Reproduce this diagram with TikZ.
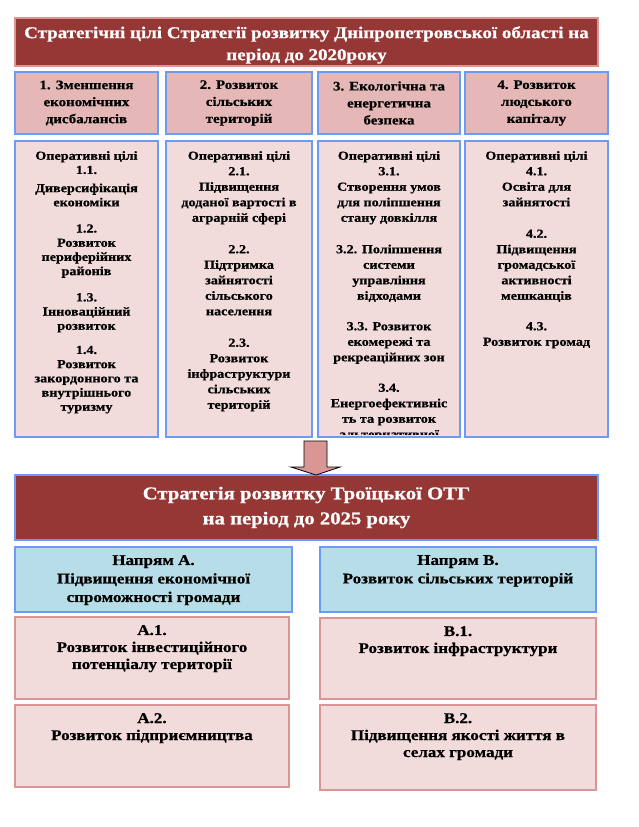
\documentclass[tikz,border=0pt]{standalone}
\usepackage{fontspec}
\setmainfont{Liberation Serif}[FakeStretch=1.15, BoldFeatures={FakeBold=0.7}]
\usetikzlibrary{fit}
\definecolor{hdr}{RGB}{149,55,53}
\definecolor{pinkA}{RGB}{229,184,183}
\definecolor{pinkB}{RGB}{242,220,219}
\definecolor{pinkline}{RGB}{217,150,148}
\definecolor{blueline}{RGB}{108,155,245}
\definecolor{lblue}{RGB}{183,222,232}
\definecolor{arrowfill}{RGB}{217,150,148}
\begin{document}
\begin{tikzpicture}[x=1pt,y=-1pt,
  bx/.style={draw, line width=1.2pt, inner sep=0pt, outer sep=0pt},
  hdrbox/.style={bx, fill=hdr},
  colhead/.style={bx, fill=pinkA, draw=blueline},
  opbox/.style={bx, fill=pinkB, draw=blueline},
  dirbox/.style={bx, fill=lblue, draw=blueline},
  taskbox/.style={bx, fill=pinkB, draw=pinkline},
  hdrtxt/.style={text=white, font=\bfseries\fontsize{16.5}{22}\selectfont, align=center},
  coltxt/.style={font=\bfseries\fontsize{13}{17}\selectfont, align=center},
  optxt/.style={font=\bfseries\fontsize{12.3}{15.5}\selectfont, align=center, anchor=north, inner sep=0pt},
  dirtxt/.style={font=\bfseries\fontsize{14.8}{18.5}\selectfont, align=center, anchor=north, inner sep=0pt},
  tasktxt/.style={dirtxt, font=\bfseries\fontsize{14.8}{17}\selectfont}]
\useasboundingbox (0,0) rectangle (639,827);

% top header
\node[hdrbox, draw=pinkline, fit={(15,18) (598,66)}] (top) {};
\node[hdrtxt] at ([yshift=-3pt]top.center) {Стратегічні цілі Стратегії розвитку Дніпропетровської області на\\період до 2020року};

% column headers
\node[colhead, fit={(15,72) (158,134)}] (h1) {};
\node[colhead, fit={(166,72) (312,134)}] (h2) {};
\node[colhead, fit={(318,72) (460,134)}] (h3) {};
\node[colhead, fit={(465,72) (608,134)}] (h4) {};
\node[coltxt] at (h1.center) {1. Зменшення\\економічних\\дисбалансів};
\node[coltxt] at (h2.center) {2. Розвиток\\сільських\\територій};
\node[coltxt] at (h3.center) {3. Екологічна та\\енергетична\\безпека};
\node[coltxt] at (h4.center) {4. Розвиток\\людського\\капіталу};

% operational goals
\node[opbox, fit={(15,141) (158,437)}] (o1) {};
\node[opbox, fit={(166,141) (312,437)}] (o2) {};
\node[opbox, fit={(318,141) (460,437)}] (o3) {};
\node[opbox, fit={(465,141) (608,437)}] (o4) {};

\node[optxt, font=\bfseries\fontsize{12.3}{14.2}\selectfont] at ([yshift=-10pt]o1.north) {Оперативні цілі\\1.1.\\[4pt]Диверсифікація\\економіки\\[12pt]1.2.\\Розвиток\\периферійних\\районів\\[12pt]1.3.\\Інноваційний\\розвиток\\[10pt]1.4.\\Розвиток\\закордонного та\\внутрішнього\\туризму};
\node[optxt] at ([yshift=-10pt]o2.north) {Оперативні цілі\\2.1.\\Підвищення\\доданої вартості в\\аграрній сфері\\[16pt]2.2.\\Підтримка\\зайнятості\\сільського\\населення\\[16pt]2.3.\\Розвиток\\інфраструктури\\сільських\\територій};
\begin{scope}
\clip (318,141) rectangle (460,434.5);
\node[optxt] at ([yshift=-10pt]o3.north) {Оперативні цілі\\3.1.\\Створення умов\\для поліпшення\\стану довкілля\\[16pt]3.2. Поліпшення\\системи\\управління\\відходами\\[15pt]3.3. Розвиток\\екомережі та\\рекреаційних зон\\[15pt]3.4.\\Енергоефективніс\\ть та розвиток\\альтернативної};
\end{scope}
\node[optxt] at ([yshift=-10pt]o4.north) {Оперативні цілі\\4.1.\\Освіта для\\зайнятості\\[16pt]4.2.\\Підвищення\\громадської\\активності\\мешканців\\[15pt]4.3.\\Розвиток громад};

% bottom header
\node[hdrbox, draw=blueline, fit={(15,475) (598,540)}] (bot) {};
\node[hdrtxt, font=\bfseries\fontsize{18}{25}\selectfont] at (bot.center) {Стратегія розвитку Троїцької ОТГ\\на період до 2025 року};

% arrow from the goal columns to the community strategy
\coordinate (arrtop) at (316,441);
\draw[black, line width=0.8pt, fill=arrowfill]
  ([xshift=-12pt]arrtop) -- ([xshift=11pt]arrtop) -- ([xshift=11pt]arrtop |- 0,467) -- ([xshift=24pt]arrtop |- 0,467)
  -- (bot.north -| arrtop) -- ([xshift=-25pt]arrtop |- 0,467) -- ([xshift=-12pt]arrtop |- 0,467) -- cycle;

% directions
\node[dirbox, fit={(15,547) (292,612)}] (dA) {};
\node[dirbox, fit={(320,547) (596,612)}] (dB) {};
\node[dirtxt] at ([yshift=-8pt]dA.north) {Напрям А.\\Підвищення економічної\\спроможності громади};
\node[dirtxt] at ([yshift=-8pt]dB.north) {Напрям В.\\Розвиток сільських територій};

\node[taskbox, fit={(15,617) (289,699)}] (a1) {};
\node[taskbox, fit={(320,618) (596,699)}] (b1) {};
\node[taskbox, fit={(15,705) (289,787)}] (a2) {};
\node[taskbox, fit={(320,705) (596,790)}] (b2) {};
\node[tasktxt] at ([yshift=-8pt]a1.north) {А.1.\\Розвиток інвестиційного\\потенціалу території};
\node[tasktxt] at ([yshift=-8pt]b1.north) {В.1.\\Розвиток інфраструктури};
\node[tasktxt] at ([yshift=-8pt]a2.north) {А.2.\\Розвиток підприємництва};
\node[tasktxt] at ([yshift=-8pt]b2.north) {В.2.\\Підвищення якості життя в\\селах громади};
\end{tikzpicture}
\end{document}
